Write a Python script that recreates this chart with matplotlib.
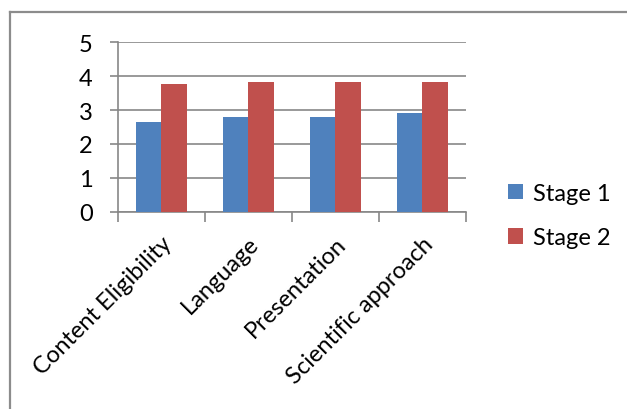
import matplotlib

matplotlib.use("Agg")
import matplotlib.pyplot as plt
from matplotlib.lines import Line2D
import numpy as np

categories = ["Content Eligibility", "Language", "Presentation", "Scientific approach"]
stage1 = [2.65, 2.80, 2.80, 2.92]
stage2 = [3.77, 3.83, 3.83, 3.83]
series_names = ["Stage 1", "Stage 2"]
colors = ["#4F81BD", "#C0504D"]
yticks = [0, 1, 2, 3, 4, 5]

plt.rcParams["font.family"] = ["Lato", "DejaVu Sans"]
GRID = "#878787"

W, H = 627, 410
fig = plt.figure(figsize=(W / 100, H / 100), dpi=100)
ax = fig.add_axes([117.7 / W, 1 - 212.7 / H, (466 - 117.7) / W, (212.7 - 43.3) / H])

x = np.arange(len(categories))
bw = 0.295
ax.bar(x - bw / 2, stage1, width=bw, color=colors[0], label=series_names[0], zorder=3)
ax.bar(x + bw / 2, stage2, width=bw, color=colors[1], label=series_names[1], zorder=3)

ax.set_xlim(-0.5, len(categories) - 0.5)
ax.set_ylim(0, 5)
ax.set_yticks(yticks)
ax.yaxis.grid(True, color=GRID, linewidth=1.2, zorder=0)
ax.set_axisbelow(True)

for side in ["top", "right"]:
    ax.spines[side].set_visible(False)
for side in ["left", "bottom"]:
    ax.spines[side].set_color(GRID)
    ax.spines[side].set_linewidth(1.2)

ax.tick_params(axis="y", length=6, width=1.2, color=GRID, pad=12, labelsize=17)

# category boundaries carry the tick marks, labels sit at centres
ax.set_xticks(np.arange(len(categories) + 1) - 0.5, minor=True)
ax.tick_params(axis="x", which="minor", length=7, width=1.2, color=GRID)
ax.set_xticks(x)
ax.set_xticklabels(categories, rotation=45, ha="right", rotation_mode="anchor", fontsize=17)
ax.tick_params(axis="x", which="major", length=0, pad=15)

ax.legend(loc="center left", bbox_to_anchor=(508 / W, 1 - 216.5 / H), bbox_transform=fig.transFigure,
          frameon=False, fontsize=17, handlelength=0.62, handleheight=0.62, handletextpad=0.45,
          labelspacing=1.0, borderaxespad=0, borderpad=0)

# outer chart frame
fx0, fy0 = 10 / W, 1 - 13 / H
fig.add_artist(Line2D([fx0, 1.0], [fy0, fy0], color="#8c8c8c", linewidth=1.6, transform=fig.transFigure))
fig.add_artist(Line2D([fx0, fx0], [fy0, 0.0], color="#8c8c8c", linewidth=1.6, transform=fig.transFigure))

fig.savefig("out.png", dpi=100)
plt.close(fig)
